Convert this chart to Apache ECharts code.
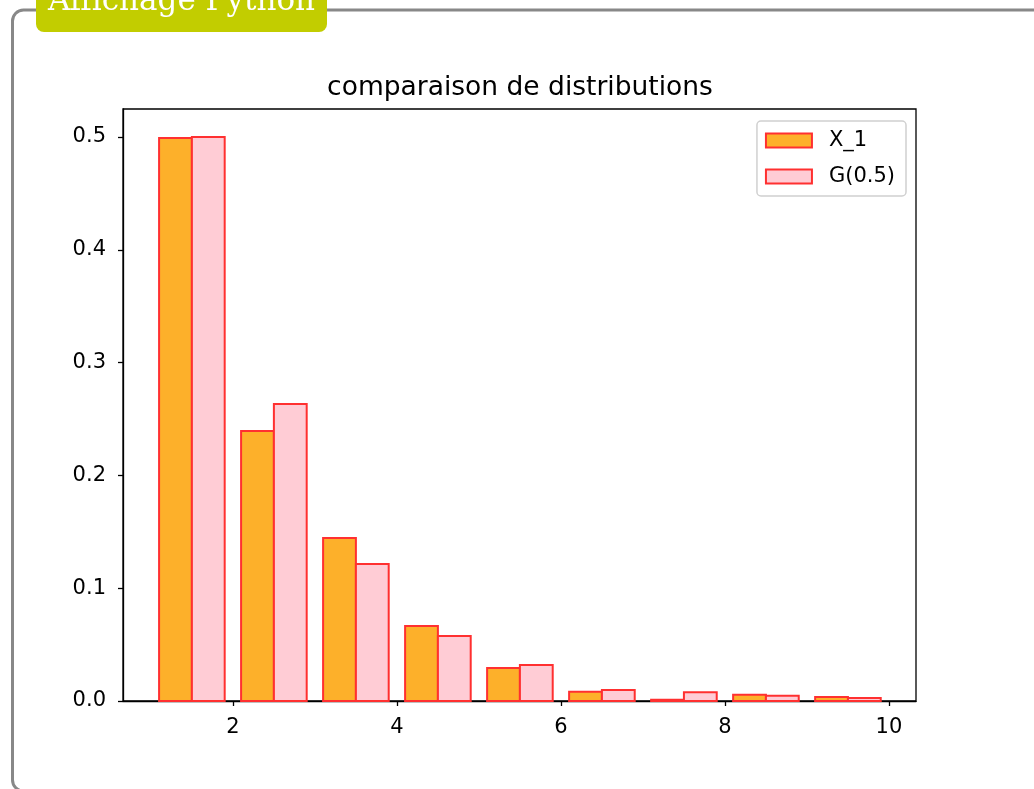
<!DOCTYPE html>
<html>
<head>
<meta charset="utf-8">
<title>comparaison de distributions</title>
<script src="https://cdn.jsdelivr.net/npm/echarts@6/dist/echarts.min.js"></script>
<style>
  html, body { margin: 0; padding: 0; background: #fff; }
  #chart { width: 1034px; height: 789px; }
</style>
</head>
<body>
<div id="chart"></div>
<script>
// bins [k, k+1), bars drawn at k+0.1..k+0.5 (X_1) and k+0.5..k+0.9 (G(0.5))
var binStarts = [1, 2, 3, 4, 5, 6, 7, 8, 9];
var x1Freq = [0.499, 0.2394, 0.1445, 0.0665, 0.0293, 0.0082, 0.0012, 0.0056, 0.0035];
var geoFreq = [0.500, 0.2633, 0.1215, 0.0576, 0.0319, 0.0098, 0.0077, 0.0047, 0.0027];
var xTicks = [2, 4, 6, 8, 10];
var yTicks = [0, 0.1, 0.2, 0.3, 0.4, 0.5];

var edgeColor = '#ff3030';
var orange = '#fdb02a';
var pink = '#ffccd5';
var font = 'DejaVu Sans';

function histBars(offset, fill) {
  return function (params, api) {
    var x0 = api.value(0) + offset;
    var top = api.coord([x0, api.value(1)]);
    var bottom = api.coord([x0 + 0.4, 0]);
    return {
      type: 'rect',
      shape: { x: top[0], y: top[1], width: bottom[0] - top[0], height: bottom[1] - top[1] },
      style: { fill: fill, stroke: edgeColor, lineWidth: 2 }
    };
  };
}

var chart = echarts.init(document.getElementById('chart'));

var option = {
  backgroundColor: '#fff',
  animation: false,
  title: {
    text: 'comparaison de distributions',
    left: 515,
    textAlign: 'center',
    top: 70,
    textStyle: { fontFamily: font, fontSize: 26.5, fontWeight: 'normal', color: '#000' }
  },
  graphic: [
    {
      type: 'rect', z: -10,
      shape: { x: 12.5, y: 10, width: 1100, height: 781, r: 11 },
      style: { fill: 'none', stroke: '#888', lineWidth: 3 }
    },
    {
      type: 'rect', z: -9,
      shape: { x: 36, y: -20, width: 291, height: 52, r: 8 },
      style: { fill: '#c2cd00' }
    },
    {
      type: 'text', z: -8,
      x: 181.5, y: 17,
      style: {
        text: 'Affichage Python', fill: '#fff',
        font: '31px "DejaVu Serif"',
        textAlign: 'center', textVerticalAlign: 'bottom'
      }
    }
  ],
  legend: {
    orient: 'vertical',
    right: 128,
    top: 121,
    padding: [9, 11, 9, 8],
    itemWidth: 46,
    itemHeight: 14,
    itemGap: 15,
    backgroundColor: '#fff',
    borderColor: '#d0d0d0',
    borderWidth: 1.5,
    borderRadius: 4,
    textStyle: { fontFamily: font, fontSize: 21, color: '#000', padding: [0, 0, 0, 12] },
    data: [
      { name: 'X_1', icon: 'rect', itemStyle: { color: orange, borderColor: edgeColor, borderWidth: 2 } },
      { name: 'G(0.5)', icon: 'rect', itemStyle: { color: pink, borderColor: edgeColor, borderWidth: 2 } }
    ]
  },
  grid: {
    left: 123, right: 118, top: 109, bottom: 88,
    show: true, borderColor: '#000', borderWidth: 1.3, backgroundColor: 'transparent'
  },
  xAxis: {
    type: 'value',
    min: 0.66,
    max: 10.33,
    splitLine: { show: false },
    axisLine: { onZero: false, lineStyle: { color: '#000', width: 1.3 } },
    axisTick: { customValues: xTicks, length: 5, lineStyle: { color: '#000', width: 1.3 } },
    axisLabel: {
      customValues: xTicks, margin: 16,
      color: '#000', fontFamily: font, fontSize: 21
    }
  },
  yAxis: {
    type: 'value',
    min: 0,
    max: 0.5248,
    splitLine: { show: false },
    axisLine: { show: true, lineStyle: { color: '#000', width: 1.3 } },
    axisTick: { show: true, customValues: yTicks, length: 5, lineStyle: { color: '#000', width: 1.3 } },
    axisLabel: {
      customValues: yTicks, margin: 17,
      color: '#000', fontFamily: font, fontSize: 21,
      formatter: function (v) { return v.toFixed(1); }
    }
  },
  series: [
    {
      name: 'X_1',
      type: 'custom',
      renderItem: histBars(0.1, orange),
      itemStyle: { color: orange, borderColor: edgeColor },
      data: binStarts.map(function (b, i) { return [b, x1Freq[i]]; })
    },
    {
      name: 'G(0.5)',
      type: 'custom',
      renderItem: histBars(0.5, pink),
      itemStyle: { color: pink, borderColor: edgeColor },
      data: binStarts.map(function (b, i) { return [b, geoFreq[i]]; })
    }
  ]
};

chart.setOption(option);
</script>
</body>
</html>
